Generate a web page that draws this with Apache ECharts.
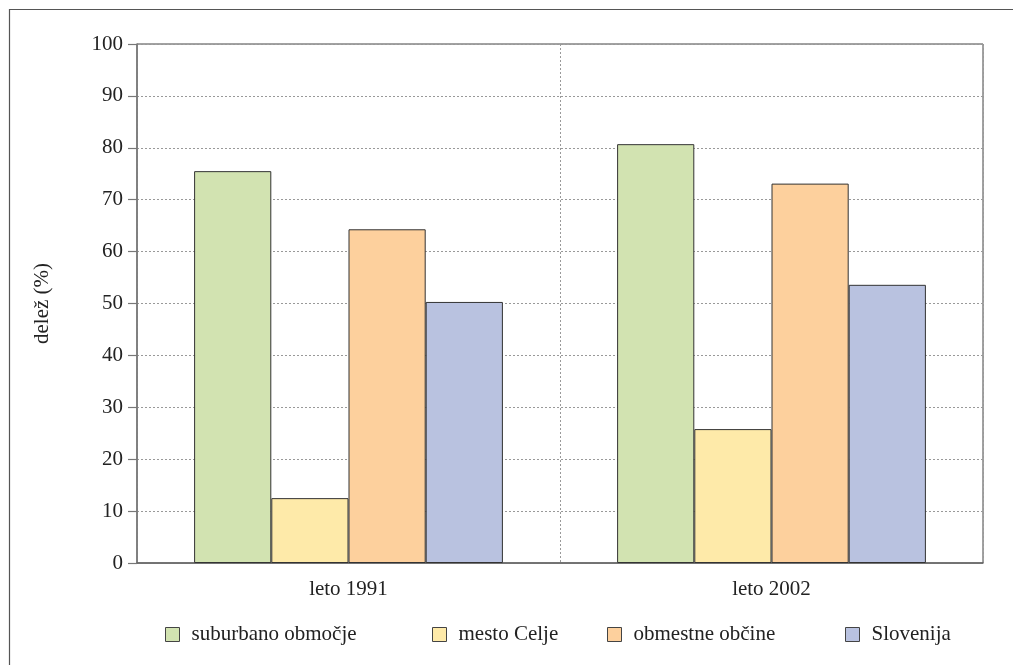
<!DOCTYPE html>
<html><head><meta charset="utf-8">
<script src="https://cdn.jsdelivr.net/npm/echarts@6/dist/echarts.min.js"></script>
<style>html,body{margin:0;padding:0;background:#fff}#c{width:1013px;height:665px}</style>
</head><body><div id="c"></div>
<script>
const categories = ['leto 1991', 'leto 2002'];
const seriesNames = ['suburbano območje', 'mesto Celje', 'obmestne občine', 'Slovenija'];
const suburbano = [75.5, 80.7];
const mestoCelje = [12.5, 25.8];
const obmestne = [64.3, 73.1];
const slovenija = [50.3, 53.6];
const yTicks = [0, 10, 20, 30, 40, 50, 60, 70, 80, 90, 100];
const colors = ['#d2e3b1', '#feeaa9', '#fdd09d', '#b9c2e0'];
const values = [suburbano, mestoCelje, obmestne, slovenija];
const FONT = 'Liberation Serif';
const legendLeft = [165, 432, 607, 845];

const chart = echarts.init(document.getElementById('c'), null, {renderer: 'canvas'});
chart.setOption({
  animation: false,
  textStyle: {fontFamily: FONT},
  graphic: [{
    type: 'rect', left: 7, top: 7, silent: true,
    shape: {width: 1020, height: 680},
    style: {fill: 'none', stroke: '#555', lineWidth: 1.2}
  }],
  grid: {left: 137, right: 30, top: 44, bottom: 102, show: true, borderColor: '#444', borderWidth: 1, backgroundColor: 'transparent'},
  legend: seriesNames.map((n, i) => ({
    top: 624, left: legendLeft[i], itemWidth: 14, itemHeight: 14, itemGap: 0,
    icon: 'rect', padding: 0,
    itemStyle: {borderColor: '#444', borderWidth: 1},
    textStyle: {fontFamily: FONT, fontSize: 21, color: '#222', padding: [0, 0, 0, 7]},
    data: [n]
  })),
  xAxis: {
    type: 'category', data: categories,
    axisLine: {lineStyle: {color: '#666', width: 1.5}},
    axisTick: {show: false},
    axisLabel: {fontFamily: FONT, fontSize: 21, color: '#222', margin: 16},
    splitLine: {show: true, lineStyle: {color: '#999', type: [2, 2], width: 1}}
  },
  yAxis: {
    type: 'value', min: 0, max: 100, interval: 10,
    name: 'delež (%)', nameLocation: 'middle', nameGap: 84, nameRotate: 90,
    nameTextStyle: {fontFamily: FONT, fontSize: 21, color: '#222'},
    axisLine: {show: true, lineStyle: {color: '#777', width: 1.5}},
    axisTick: {show: true, length: 9, lineStyle: {color: '#777', width: 1.2}},
    axisLabel: {fontFamily: FONT, fontSize: 21, color: '#222', margin: 14,
      formatter: v => yTicks.includes(v) ? String(v) : ''},
    splitLine: {show: true, lineStyle: {color: '#999', type: [2, 2], width: 1}}
  },
  series: seriesNames.map((n, i) => ({
    name: n, type: 'bar', data: values[i],
    barGap: '0%', barCategoryGap: '27%',
    itemStyle: {color: colors[i], borderColor: '#333', borderWidth: 1}
  }))
});
</script></body></html>
